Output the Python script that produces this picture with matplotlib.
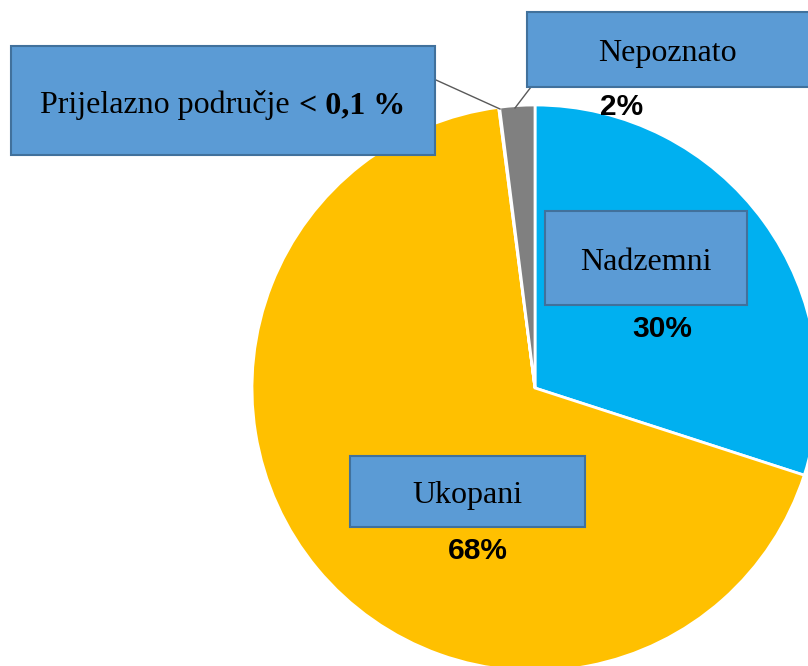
import matplotlib
matplotlib.use("Agg")
import matplotlib.pyplot as plt
from matplotlib.patches import Rectangle

# Shares of line length by type
categories = ["Nadzemni", "Ukopani", "Prijelazno područje", "Nepoznato"]
values = [30, 68, 0.05, 2]
colors = ["#00B0F0", "#FFC000", "#A5A5A5", "#808080"]

W, H = 808, 666
fig = plt.figure(figsize=(W / 100, H / 100), dpi=100)
ax = fig.add_axes([0, 0, 1, 1])

cx, cy, r = 535, H - 388, 283
ax.pie(values, colors=colors, startangle=90, counterclock=False,
       center=(cx, cy), radius=r, frame=True,
       wedgeprops=dict(edgecolor="white", linewidth=2))
ax.set_xlim(0, W)
ax.set_ylim(0, H)
ax.set_aspect("equal")
ax.axis("off")

box_fc = "#5B9BD5"
box_ec = "#41719C"
serif = "Liberation Serif"
sans = "Liberation Sans"
fs_box = 23
fs_pct = 21.5


def box(x0, y0, x1, y1):
    ax.add_patch(Rectangle((x0, H - y1), x1 - x0, y1 - y0, facecolor=box_fc,
                           edgecolor=box_ec, linewidth=1.5, zorder=5, clip_on=False))


def pct(v):
    return f"{round(v)}%"


# Leader lines for the two small slices
ax.plot([436, 500], [H - 80, H - 109], color="#595959", lw=1, zorder=4)
ax.plot([531, 515], [H - 87, H - 108], color="#595959", lw=1, zorder=4)

# Nadzemni
box(545, 211, 747, 305)
ax.text(646, H - 263, categories[0], ha="center", va="center", fontsize=fs_box,
        family=serif, zorder=6)
ax.text(662, H - 329, pct(values[0]), ha="center", va="center", fontsize=fs_pct,
        family=sans, weight="bold", zorder=6)

# Ukopani
box(350, 456, 585, 527)
ax.text(467, H - 496, categories[1], ha="center", va="center", fontsize=fs_box,
        family=serif, zorder=6)
ax.text(478, H - 551, pct(values[1]), ha="center", va="center", fontsize=fs_pct,
        family=sans, weight="bold", zorder=6)

# Prijelazno područje: regular name followed by bold value
box(11, 46, 435, 155)
t1 = ax.text(40, H - 113, categories[2], ha="left", va="baseline", fontsize=fs_box,
             family=serif, zorder=6)
fig.canvas.draw()
bb = t1.get_window_extent()
x_next = ax.transData.inverted().transform((bb.x1, 0))[0] + 9
ax.text(x_next, H - 113, "< 0,1 %", ha="left", va="baseline", fontsize=fs_box,
        family=serif, weight="bold", zorder=6)

# Nepoznato
box(527, 12, 812, 87)
ax.text(667, H - 53, categories[3], ha="center", va="center", fontsize=fs_box,
        family=serif, zorder=6)
ax.text(622, H - 107, pct(values[3]), ha="center", va="center", fontsize=fs_pct,
        family=sans, weight="bold", zorder=6)

fig.savefig("out.png", dpi=100)
